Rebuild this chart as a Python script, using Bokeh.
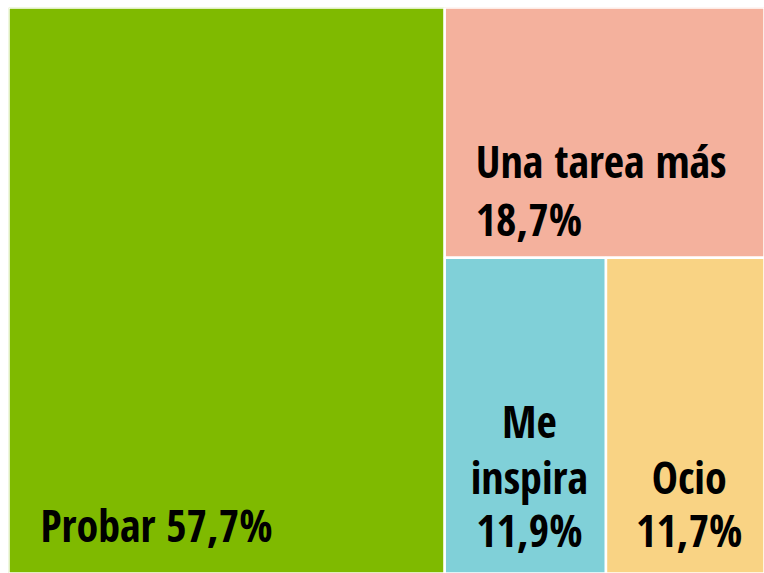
from bokeh.plotting import figure
from bokeh.models import ColumnDataSource, Range1d
from bokeh.core.properties import value
from bokeh.embed import file_html
from bokeh.resources import INLINE

categories = ["Probar", "Una tarea más", "Me inspira", "Ocio"]
shares = [57.7, 18.7, 11.9, 11.7]
colors = ["#7FBA00", "#F4B19D", "#80D0D8", "#F9D384"]

def fmt(v):
    return f"{v:.1f}".replace(".", ",") + "%"

total = sum(shares)
w1 = shares[0] / total
right = sum(shares[1:])
h_top = shares[1] / right
bottom = shares[2] + shares[3]
w_blue = (1 - w1) * shares[2] / bottom

left_ = [0, w1, w1, w1 + w_blue]
right_ = [w1, 1, w1 + w_blue, 1]
bottom_ = [0, 1 - h_top, 0, 0]
top_ = [1, 1, 1 - h_top, 1 - h_top]

src = ColumnDataSource(dict(left=left_, right=right_, bottom=bottom_, top=top_,
                            color=colors, cat=categories))

p = figure(width=764, height=573, output_backend="svg", toolbar_location=None,
           x_range=Range1d(0, 1), y_range=Range1d(0, 1),
           min_border_left=8, min_border_top=7, min_border_right=0, min_border_bottom=0,
           background_fill_color="white", border_fill_color="white")
p.xaxis.visible = False
p.yaxis.visible = False
p.grid.visible = False
p.outline_line_color = None

p.quad(left="left", right="right", bottom="bottom", top="top", source=src,
       fill_color="color", line_color="white", line_width=2.5)

font = value("'Open Sans Condensed', 'Roboto Condensed', 'DejaVu Sans Condensed', sans-serif")
fs = "44px"

lx, ly, lt, xo, yo, al = [], [], [], [], [], []
lx.append(left_[0]); ly.append(0); lt.append(f"{categories[0]} {fmt(shares[0])}"); xo.append(32); yo.append(-49); al.append("left")
lx.append(left_[1]); ly.append(1); lt.append(categories[1]); xo.append(31); yo.append(153); al.append("left")
lx.append(left_[1]); ly.append(1); lt.append(fmt(shares[1])); xo.append(31); yo.append(211); al.append("left")
cxb = (left_[2] + right_[2]) / 2
words = categories[2].split(" ")
lx.append(cxb); ly.append(0); lt.append(words[0]); xo.append(4); yo.append(-153); al.append("center")
lx.append(cxb); ly.append(0); lt.append(words[1]); xo.append(4); yo.append(-97); al.append("center")
lx.append(cxb); ly.append(0); lt.append(fmt(shares[2])); xo.append(4); yo.append(-44); al.append("center")
cxy = (left_[3] + right_[3]) / 2
lx.append(cxy); ly.append(0); lt.append(categories[3]); xo.append(4); yo.append(-97); al.append("center")
lx.append(cxy); ly.append(0); lt.append(fmt(shares[3])); xo.append(4); yo.append(-44); al.append("center")

lsrc = ColumnDataSource(dict(x=lx, y=ly, t=lt, xo=xo, yo=yo, al=al))
p.text(x="x", y="y", text="t", x_offset="xo", y_offset="yo", text_align="al",
       text_baseline="alphabetic", text_font=font, text_font_size=fs,
       text_font_style="bold", text_color="black", source=lsrc)

open("out.html", "w").write(file_html(p, INLINE))
